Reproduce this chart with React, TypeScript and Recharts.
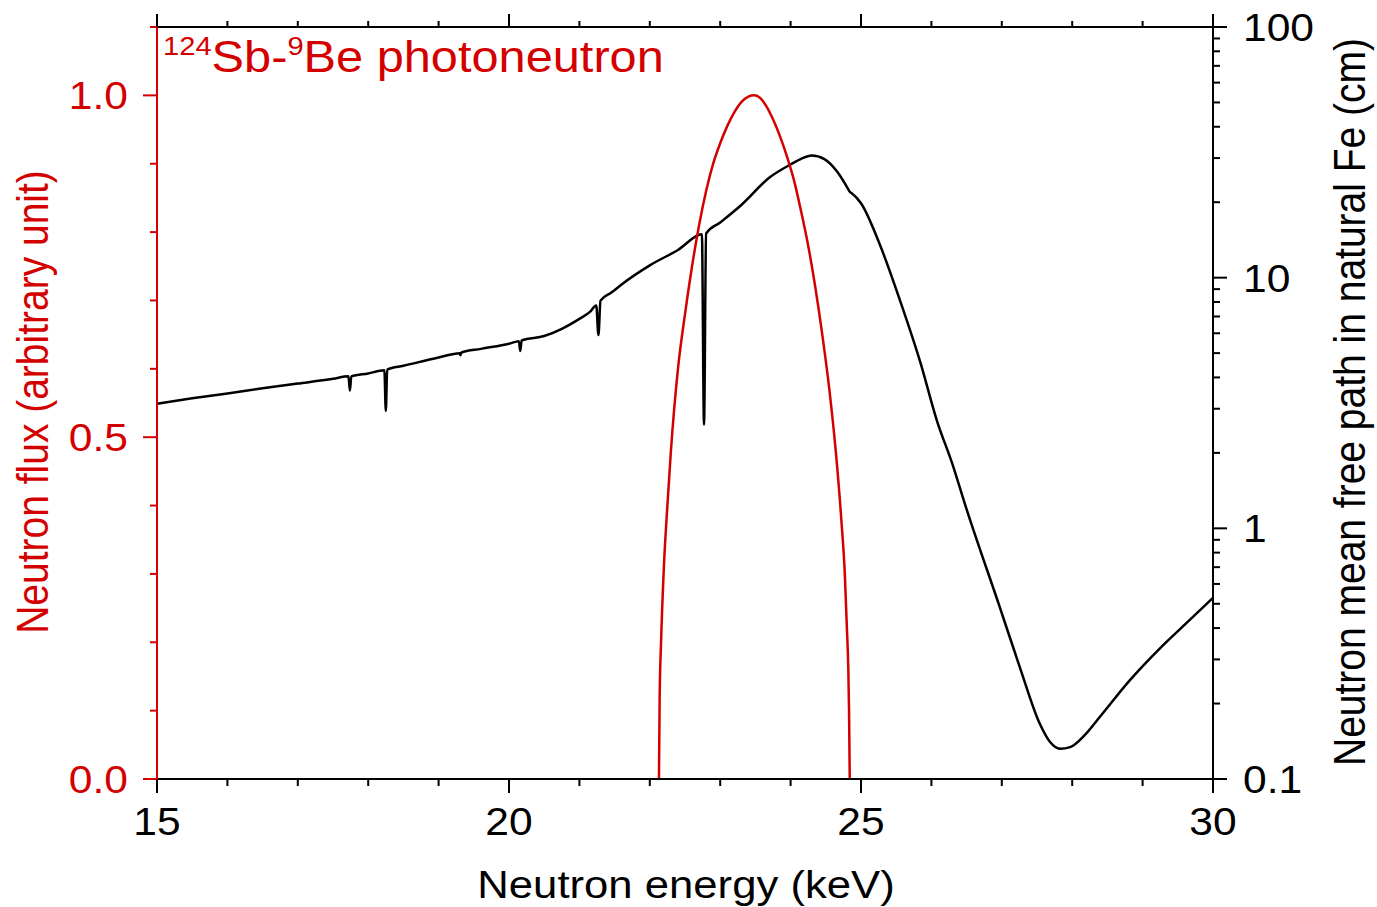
import { ComposedChart, Line, XAxis, YAxis } from "recharts";

const RED = "#d40000";
const FONT = "'Liberation Sans', Arial, sans-serif";
const SX = 1.12; // the reference text is stretched sideways

// neutron flux (arbitrary unit) of the 124Sb-9Be source
const fluxEnergy = [
  22.13, 22.14, 22.16, 22.2, 22.25, 22.3, 22.4, 22.5, 22.6, 22.7, 22.8, 22.9, 23.0, 23.1,
  23.2, 23.3, 23.4, 23.48, 23.56, 23.65, 23.75, 23.85, 23.95, 24.05, 24.15, 24.25, 24.35,
  24.45, 24.55, 24.65, 24.72, 24.77, 24.8, 24.82, 24.83, 24.84,
];
const fluxValue = [
  0, 0.12, 0.2, 0.31, 0.4, 0.48, 0.6, 0.68, 0.75, 0.81, 0.86, 0.9, 0.93, 0.955, 0.975,
  0.99, 0.998, 1.0, 0.997, 0.985, 0.965, 0.94, 0.91, 0.875, 0.83, 0.78, 0.72, 0.65, 0.57,
  0.47, 0.38, 0.3, 0.22, 0.16, 0.1, 0,
];

// neutron mean free path in natural Fe (cm)
const mfpEnergy = [
  15.0, 15.5, 16.0, 16.5, 17.0, 17.5, 17.72, 17.74, 17.76, 18.0, 18.23, 18.25, 18.27, 18.5,
  19.0, 19.3, 19.31, 19.32, 19.6, 20.0, 20.14, 20.16, 20.18, 20.5, 20.75, 21.0, 21.15,
  21.24, 21.27, 21.3, 21.45, 21.6, 22.0, 22.4, 22.74, 22.77, 22.8, 23.0, 23.3, 23.7, 24.0,
  24.15, 24.3, 24.48, 24.66, 24.82, 24.84, 24.86, 25.0, 25.27, 25.55, 25.84, 26.08, 26.3,
  26.48, 26.97, 27.26, 27.54, 27.68, 27.83, 27.97, 28.18, 28.4, 28.82, 29.25, 29.67, 30.0,
];
const mfpValue = [
  3.14, 3.3, 3.45, 3.62, 3.78, 3.95, 4.04, 3.54, 4.04, 4.15, 4.27, 2.94, 4.3, 4.45, 4.8,
  5.0, 4.9, 5.02, 5.2, 5.45, 5.58, 5.1, 5.62, 5.85, 6.25, 6.85, 7.3, 7.75, 5.9, 8.1, 8.7,
  9.4, 11.2, 12.9, 14.9, 2.59, 15.0, 16.6, 19.5, 25.1, 28.3, 29.8, 30.7, 29.7, 26.5, 22.5,
  22.0, 21.8, 19.8, 13.5, 8.17, 4.62, 2.68, 1.8, 1.24, 0.486, 0.277, 0.166, 0.141, 0.132,
  0.134, 0.15, 0.178, 0.248, 0.333, 0.431, 0.528,
];

const energyTicks = [15, 16, 17, 18, 19, 20, 21, 22, 23, 24, 25, 26, 27, 28, 29, 30];
const energyLabels = [15, 20, 25, 30];
const fluxTicks = [0, 0.1, 0.2, 0.3, 0.4, 0.5, 0.6, 0.7, 0.8, 0.9, 1.0, 1.1];
const fluxLabels = ["0.0", "0.5", "1.0"];
const mfpTicks = [
  0.1, 0.2, 0.3, 0.4, 0.5, 0.6, 0.7, 0.8, 0.9, 1, 2, 3, 4, 5, 6, 7, 8, 9, 10, 20, 30, 40,
  50, 60, 70, 80, 90, 100,
];
const mfpLabels = ["0.1", "1", "10", "100"];

const fluxData = fluxEnergy.map((e, i) => ({ e, flux: fluxValue[i] }));
const mfpData = mfpEnergy.map((e, i) => ({ e, mfp: mfpValue[i] }));

function Txt({ x, y, anchor = "middle", size = 38, fill = "#000", rotate = 0, children }: any) {
  return (
    <text
      transform={`translate(${x},${y}) scale(${SX},1)${rotate ? ` rotate(${rotate})` : ""}`}
      textAnchor={anchor}
      fontSize={size}
      fontFamily={FONT}
      fill={fill}
    >
      {children}
    </text>
  );
}

function BottomTick({ x, y, payload }: any) {
  const major = energyLabels.includes(payload.value);
  return (
    <g>
      <line x1={x} x2={x} y1={y} y2={y + (major ? 14 : 7)} stroke="#000" strokeWidth={2} />
      {major && <Txt x={x} y={y + 56}>{payload.value}</Txt>}
    </g>
  );
}

function TopTick({ x, y, payload }: any) {
  const major = energyLabels.includes(payload.value);
  return <line x1={x} x2={x} y1={y} y2={y - (major ? 13 : 6)} stroke="#000" strokeWidth={2} />;
}

function FluxTick({ x, y, payload }: any) {
  const label = payload.value.toFixed(1);
  const major = fluxLabels.includes(label);
  return (
    <g>
      <line x1={x} x2={x - (major ? 14 : 7)} y1={y} y2={y} stroke={RED} strokeWidth={2} />
      {major && (
        <Txt x={x - 29} y={y + 14} anchor="end" fill={RED}>
          {label}
        </Txt>
      )}
    </g>
  );
}

function MfpTick({ x, y, payload }: any) {
  const label = String(payload.value);
  const major = mfpLabels.includes(label);
  return (
    <g>
      <line x1={x} x2={x + (major ? 14 : 7)} y1={y} y2={y} stroke="#000" strokeWidth={2} />
      {major && (
        <Txt x={x + 30} y={y + 14} anchor="start">
          {label}
        </Txt>
      )}
    </g>
  );
}

const xTitle = () => (
  <Txt x={686} y={898} size={39}>
    Neutron energy (keV)
  </Txt>
);

const sourceTitle = () => (
  <text
    transform={`translate(163,72) scale(${SX},1)`}
    fontSize={43.5}
    fontFamily={FONT}
    fill={RED}
  >
    <tspan fontSize={26} dy={-17}>124</tspan>
    <tspan dy={17}>Sb-</tspan>
    <tspan fontSize={26} dy={-17}>9</tspan>
    <tspan dy={17}>Be photoneutron</tspan>
  </text>
);

const fluxTitle = () => (
  <Txt x={48} y={402} size={39} fill={RED} rotate={-90}>
    Neutron flux (arbitrary unit)
  </Txt>
);

const mfpTitle = () => (
  <Txt x={1365} y={402} size={39} rotate={-90}>
    Neutron mean free path in natural Fe (cm)
  </Txt>
);

export default function App() {
  return (
    <div style={{ position: "absolute", left: 0, top: 0, background: "#fff" }}>
      <ComposedChart width={1377} height={907} margin={{ top: 7, right: 64, bottom: 68, left: 57 }}>
        <XAxis
          xAxisId="bottom"
          type="number"
          dataKey="e"
          domain={[15, 30]}
          ticks={energyTicks}
          interval={0}
          allowDataOverflow
          tickSize={0}
          tickMargin={0}
          tickLine={false}
          tick={<BottomTick />}
          axisLine={{ stroke: "#000", strokeWidth: 2 }}
          height={60}
          label={{ content: xTitle }}
        />
        <XAxis
          xAxisId="top"
          orientation="top"
          type="number"
          dataKey="e"
          domain={[15, 30]}
          ticks={energyTicks}
          interval={0}
          allowDataOverflow
          tickSize={0}
          tickMargin={0}
          tickLine={false}
          tick={<TopTick />}
          axisLine={{ stroke: "#000", strokeWidth: 2 }}
          height={20}
          label={{ content: sourceTitle }}
        />
        <YAxis
          yAxisId="flux"
          type="number"
          domain={[0, 1.1]}
          ticks={fluxTicks}
          interval={0}
          allowDataOverflow
          tickSize={0}
          tickMargin={0}
          tickLine={false}
          tick={<FluxTick />}
          axisLine={{ stroke: RED, strokeWidth: 2 }}
          width={100}
          label={{ content: fluxTitle }}
        />
        <YAxis
          yAxisId="mfp"
          orientation="right"
          scale="log"
          type="number"
          domain={[0.1, 100]}
          ticks={mfpTicks}
          interval={0}
          allowDataOverflow
          tickSize={0}
          tickMargin={0}
          tickLine={false}
          tick={<MfpTick />}
          axisLine={{ stroke: "#000", strokeWidth: 2 }}
          width={100}
          label={{ content: mfpTitle }}
        />
        <Line
          data={mfpData}
          xAxisId="bottom"
          yAxisId="mfp"
          dataKey="mfp"
          type="monotone"
          stroke="#000"
          strokeWidth={2.5}
          dot={false}
          isAnimationActive={false}
        />
        <Line
          data={fluxData}
          xAxisId="bottom"
          yAxisId="flux"
          dataKey="flux"
          type="monotone"
          stroke={RED}
          strokeWidth={2.5}
          dot={false}
          isAnimationActive={false}
        />
      </ComposedChart>
    </div>
  );
}
